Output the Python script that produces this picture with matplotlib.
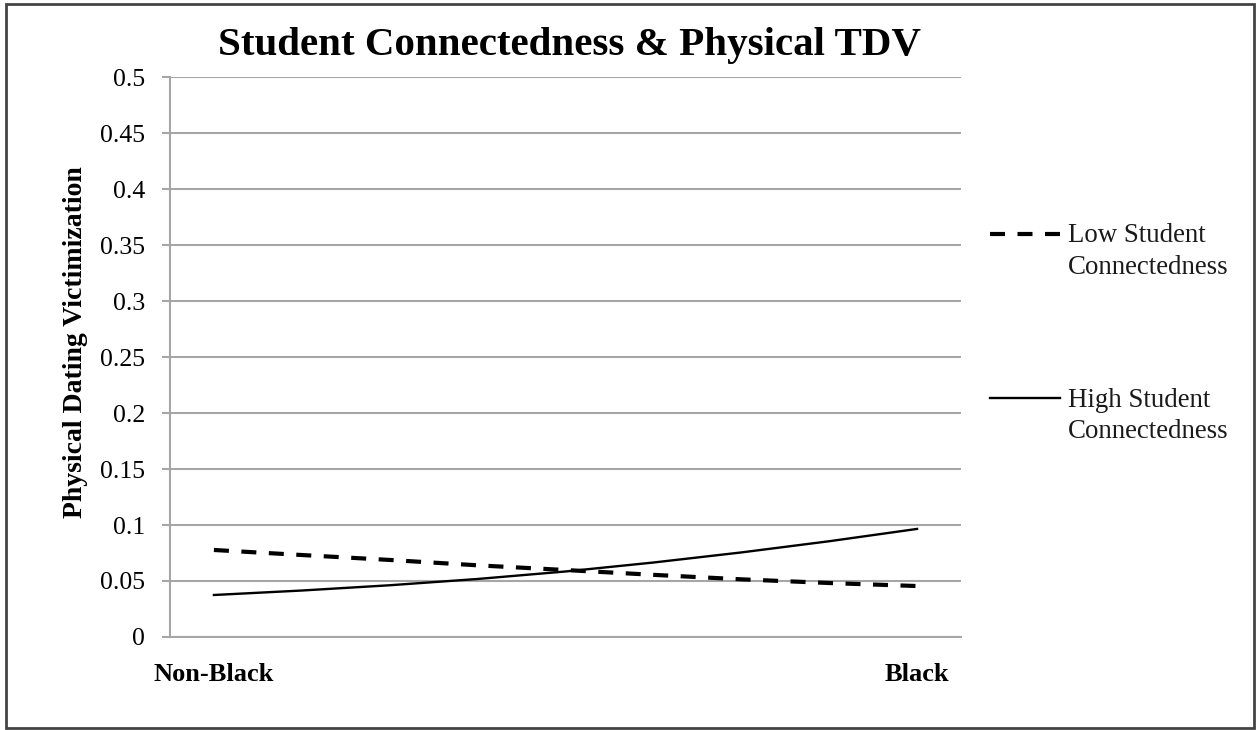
import matplotlib.pyplot as plt
from matplotlib.patches import Rectangle
from matplotlib.legend_handler import HandlerLine2D

# Dados (9 pontos por serie, so o primeiro e o ultimo rotulados)
categorias = ["Non-Black", "", "", "", "", "", "", "", "Black"]
low_connect = [0.0777, 0.0732, 0.0688, 0.0640, 0.0598, 0.0555, 0.0515, 0.0482, 0.0455]
high_connect = [0.0375, 0.0415, 0.0462, 0.0518, 0.0585, 0.0665, 0.0755, 0.0855, 0.0965]
y_ticks = [0, 0.05, 0.1, 0.15, 0.2, 0.25, 0.3, 0.35, 0.4, 0.45, 0.5]
y_tick_labels = ["0", "0.05", "0.1", "0.15", "0.2", "0.25", "0.3", "0.35", "0.4", "0.45", "0.5"]

plt.rcParams["font.family"] = ["Liberation Serif", "DejaVu Serif"]


# linha da legenda alinhada com a primeira linha do rotulo
class HandlerPrimeiraLinha(HandlerLine2D):
    def create_artists(self, legend, orig_handle, xdescent, ydescent, width, height, fontsize, trans):
        artistas = super().create_artists(legend, orig_handle, xdescent, ydescent,
                                          width, height, fontsize, trans)
        for a in artistas:
            a.set_ydata([y + 0.66 * fontsize for y in a.get_ydata()])
        return artistas


fig = plt.figure(figsize=(12.59, 7.30), dpi=100)
ax = fig.add_axes([0.135, 0.1274, 0.6283, 0.7671])

x = list(range(len(categorias)))
ax.plot(x, low_connect, color="black", linewidth=3, linestyle=(0, (3.6, 3.0)),
        label="Low Student\nConnectedness")
ax.plot(x, high_connect, color="black", linewidth=1.7, label="High Student\nConnectedness")

# eixos
ax.set_xlim(-0.5, len(categorias) - 0.5)
ax.set_ylim(0, 0.5)
ax.set_yticks(y_ticks)
ax.set_yticklabels(y_tick_labels, fontsize=18.5)
ax.set_xticks(x)
ax.set_xticklabels(categorias, fontsize=19, fontweight="bold")
ax.tick_params(axis="x", length=0, pad=19)
ax.tick_params(axis="y", length=6, width=1.5, color="#a6a6a6", pad=12)
ax.grid(axis="y", color="#a6a6a6", linewidth=1.5)
ax.set_axisbelow(True)
for lado in ["top", "right"]:
    ax.spines[lado].set_visible(False)
ax.spines["left"].set_color("#a6a6a6")
ax.spines["left"].set_linewidth(1.5)
ax.spines["bottom"].set_color("#a6a6a6")
ax.spines["bottom"].set_linewidth(1.5)

fig.text(0.4527, 0.938, "Student Connectedness & Physical TDV", ha="center", va="center",
         fontsize=29.5, fontweight="bold")
fig.text(0.0596, 0.532, "Physical Dating Victimization", rotation=90, ha="center", va="center",
         fontsize=20, fontweight="bold")

leg = ax.legend(loc="upper left", bbox_to_anchor=(1.006, 0.782), frameon=False, fontsize=19.4,
                handlelength=2.6, handletextpad=0.3, labelspacing=4.0,
                handler_map={plt.Line2D: HandlerPrimeiraLinha()})
for t in leg.get_texts():
    t.set_linespacing(1.35)
    t.set_color("#1a1a1a")

# moldura externa
fig.patches.append(Rectangle((0.005, 0.003), 0.991, 0.991, transform=fig.transFigure,
                             fill=False, edgecolor="#444444", linewidth=2))

fig.savefig("out.png", dpi=100)
